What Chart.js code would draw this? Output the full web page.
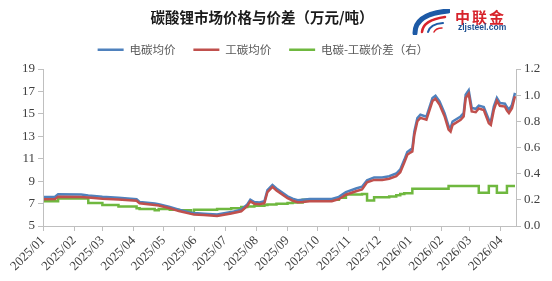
<!DOCTYPE html>
<html>
<head>
<meta charset="utf-8">
<script src="https://cdn.jsdelivr.net/npm/chart.js@4"></script>
<style>
html, body { margin: 0; padding: 0; background: #fff; }
#wrap { position: relative; width: 552px; height: 281px; }
#logo { position: absolute; left: 412px; top: 6px; width: 110px; height: 30px; }
#logo svg { position: absolute; left: 0; top: 3px; }
#logo .cn { position: absolute; left: 43px; top: 3px; line-height: 16px; font: bold 15px/16px "Noto Sans CJK SC", sans-serif; color: #d7232b; letter-spacing: 2px; }
#logo .en { position: absolute; left: 46px; top: 17px; font: bold 8.5px/9px Arial, "Liberation Sans", sans-serif; color: #1d4f91; }
</style>
</head>
<body>
<div id="wrap">
  <canvas id="lineChart1" width="552" height="281"></canvas>
  <div id="logo">
    <svg width="38" height="26" viewBox="0 0 38 26">
      <path d="M3,24 Q3,5 36,2" stroke="#1d5aa6" stroke-width="5" fill="none" stroke-linecap="round"/>
      <path d="M10,23 Q11,11 33,8" stroke="#d7232b" stroke-width="2.5" fill="none" stroke-linecap="round"/>
      <path d="M16,23 Q18,15 31,14" stroke="#1d5aa6" stroke-width="2" fill="none" stroke-linecap="round"/>
      <path d="M22,23 Q24,19 30,19" stroke="#d7232b" stroke-width="1.5" fill="none" stroke-linecap="round"/>
    </svg>
    <span class="cn">中联金</span>
    <span class="en">zljsteel.com</span>
  </div>
</div>
<script>
// day index counted from 2025-01-01
const days = [1, 12, 15, 38, 45, 59, 75, 93, 96, 111, 115, 126, 135, 147, 150, 160, 173, 187, 197, 203,
  206, 210, 215, 220, 223, 228, 232, 243, 248, 253, 258, 265, 287, 294, 301, 311, 317, 322, 329, 337,
  344, 351, 355, 359, 362, 365, 367, 369, 372, 375, 381, 387, 390, 394, 399, 403, 405, 407, 415, 418,
  420, 423, 426, 430, 433, 438, 443, 445, 448, 451, 454, 459, 461, 463, 466, 469];

// 电碳均价 (万元/吨)
const batteryAvg = [7.58, 7.60, 7.82, 7.80, 7.72, 7.60, 7.52, 7.38, 7.15, 7.00, 6.95, 6.70, 6.45, 6.18, 6.15, 6.10, 6.03, 6.24, 6.45, 6.93,
  7.35, 7.14, 7.10, 7.20, 8.19, 8.65, 8.34, 7.65, 7.44, 7.30, 7.35, 7.41, 7.41, 7.60, 8.03, 8.34, 8.50, 9.08, 9.33, 9.33,
  9.44, 9.68, 10.04, 10.90, 11.60, 11.80, 11.93, 13.42, 14.62, 14.92, 14.75, 16.42, 16.62, 16.11, 15.07, 13.90, 13.72, 14.32, 14.77, 15.07,
  16.71, 17.10, 15.52, 15.45, 15.73, 15.60, 14.47, 14.32, 15.66, 16.42, 15.97, 15.90, 15.60, 15.37, 15.80, 16.87];

// 工碳均价 (万元/吨)
const industrialAvg = [7.39, 7.41, 7.61, 7.59, 7.55, 7.44, 7.37, 7.25, 7.02, 6.88, 6.82, 6.58, 6.33, 6.08, 6.03, 5.98, 5.90, 6.11, 6.31, 6.78,
  7.20, 6.99, 6.95, 7.04, 8.03, 8.49, 8.17, 7.48, 7.26, 7.12, 7.15, 7.21, 7.21, 7.39, 7.79, 8.10, 8.26, 8.89, 9.11, 9.11,
  9.22, 9.45, 9.80, 10.65, 11.35, 11.55, 11.65, 13.14, 14.34, 14.64, 14.47, 16.14, 16.34, 15.83, 14.79, 13.60, 13.42, 14.02, 14.47, 14.77,
  16.41, 16.80, 15.22, 15.15, 15.48, 15.35, 14.17, 14.02, 15.36, 16.17, 15.72, 15.65, 15.30, 15.07, 15.50, 16.57];

// 电碳-工碳价差 (右轴)
const spread = [0.19, 0.19, 0.21, 0.21, 0.175, 0.16, 0.15, 0.135, 0.13, 0.12, 0.13, 0.125, 0.12, 0.10, 0.125, 0.125, 0.13, 0.135, 0.145, 0.15,
  0.15, 0.155, 0.155, 0.16, 0.165, 0.165, 0.17, 0.175, 0.18, 0.18, 0.20, 0.20, 0.20, 0.215, 0.24, 0.24, 0.245, 0.195, 0.22, 0.22,
  0.225, 0.235, 0.245, 0.25, 0.25, 0.25, 0.285, 0.285, 0.285, 0.285, 0.285, 0.285, 0.285, 0.285, 0.285, 0.305, 0.305, 0.305, 0.305, 0.305,
  0.305, 0.305, 0.305, 0.305, 0.255, 0.255, 0.305, 0.305, 0.305, 0.255, 0.255, 0.255, 0.305, 0.305, 0.305, 0.305];

const monthDays = [0, 31, 59, 90, 120, 151, 181, 212, 243, 273, 304, 334, 365, 396, 424, 455];
const monthLabels = ['2025/01', '2025/02', '2025/03', '2025/04', '2025/05', '2025/06', '2025/07', '2025/08',
  '2025/09', '2025/10', '2025/11', '2025/12', '2026/01', '2026/02', '2026/03', '2026/04'];

const toPoints = values => days.map((d, i) => ({ x: d, y: values[i] }));

// nudge title and legend like the original (they sit left of center)
const shiftHeader = {
    id: 'shiftHeader',
    afterLayout(chart) {
        chart.titleBlock.left -= 14;
        chart.titleBlock.right -= 14;
        chart.legend.left -= 13;
        chart.legend.right -= 13;
        chart.legend.top -= 3.5;
        chart.legend.bottom -= 3.5;
    }
};

const axisColor = '#bfbfbf';
const tickFont = { family: '"Liberation Serif", "Times New Roman", serif', size: 13 };

const ctx = document.getElementById('lineChart1').getContext('2d');
new Chart(ctx, {
    type: 'line',
    data: {
        datasets: [{
            label: '电碳均价',
            data: toPoints(batteryAvg),
            borderColor: '#4f81bd',
            backgroundColor: '#4f81bd',
            borderWidth: 2.5,
            yAxisID: 'y',
            order: 2
        }, {
            label: '工碳均价',
            data: toPoints(industrialAvg),
            borderColor: '#c0504d',
            backgroundColor: '#c0504d',
            borderWidth: 2.5,
            yAxisID: 'y',
            order: 1
        }, {
            label: '电碳-工碳价差（右）',
            data: toPoints(spread),
            borderColor: '#6fb83f',
            backgroundColor: '#6fb83f',
            borderWidth: 2.5,
            stepped: true,
            yAxisID: 'y1',
            order: 3
        }]
    },
    options: {
        responsive: false,
        animation: false,
        elements: {
            point: { radius: 0 },
            line: { tension: 0 }
        },
        plugins: {
            title: {
                display: true,
                text: '碳酸锂市场价格与价差（万元/吨）',
                color: '#1a1a1a',
                font: { family: '"Noto Sans CJK SC", sans-serif', size: 14.5, weight: 'bold', lineHeight: '18px' },
                padding: { top: 8, bottom: 3.5 }
            },
            legend: {
                labels: {
                    usePointStyle: true,
                    pointStyle: 'line',
                    pointStyleWidth: 26,
                    color: '#595959',
                    font: { family: '"Noto Sans CJK SC", sans-serif', size: 11.5 },
                    padding: 18,
                    sort: (a, b) => a.datasetIndex - b.datasetIndex
                }
            },
            tooltip: { enabled: false }
        },
        scales: {
            x: {
                type: 'linear',
                min: 0,
                max: 470,
                afterBuildTicks: scale => {
                    scale.ticks = monthDays.map(v => ({ value: v }));
                },
                afterFit: scale => { scale.height = 55; },
                ticks: {
                    autoSkip: false,
                    minRotation: 45,
                    maxRotation: 45,
                    color: '#404040',
                    font: tickFont,
                    padding: 2,
                    callback: (value, index) => monthLabels[index]
                },
                grid: { drawOnChartArea: false, drawTicks: true, tickLength: 5, color: axisColor },
                border: { color: axisColor }
            },
            y: {
                position: 'left',
                min: 5,
                max: 19,
                afterFit: scale => { scale.width = 43; },
                ticks: { stepSize: 2, color: '#404040', font: tickFont, padding: 3 },
                grid: { drawOnChartArea: false, drawTicks: true, tickLength: 5, color: axisColor },
                border: { color: axisColor }
            },
            y1: {
                position: 'right',
                min: 0,
                max: 1.2,
                afterFit: scale => { scale.width = 36; },
                ticks: {
                    stepSize: 0.2,
                    color: '#404040',
                    font: tickFont,
                    padding: 3,
                    callback: v => v.toFixed(1)
                },
                grid: { drawOnChartArea: false, drawTicks: true, tickLength: 5, color: axisColor },
                border: { color: axisColor }
            }
        }
    },
    plugins: [shiftHeader]
});
</script>
</body>
</html>
